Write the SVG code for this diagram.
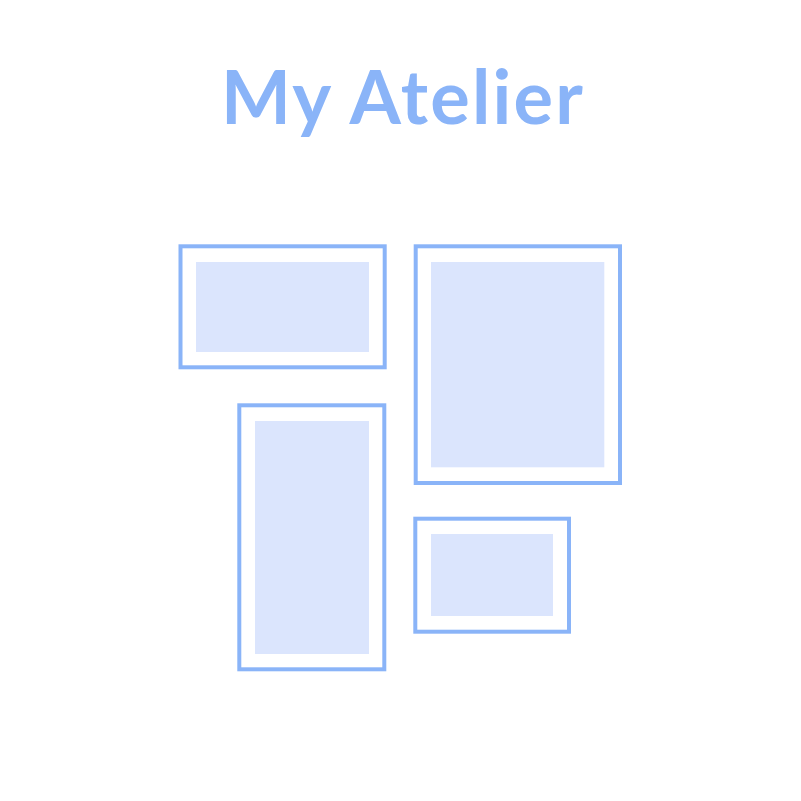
<svg xmlns="http://www.w3.org/2000/svg" width="801" height="801" viewBox="0 0 801 801">
<style>
.frame{fill:#ffffff;stroke:#8ab4f8;stroke-width:4}
.art{fill:#dbe5fd}
.title{font-family:Lato,"Open Sans","DejaVu Sans",sans-serif;font-weight:bold;font-size:74px;letter-spacing:2.2px;fill:#8ab4f8}
</style>
<rect width="801" height="801" fill="#ffffff"/>
<text class="title" x="403" y="124" text-anchor="middle">My Atelier</text>
<g id="frame1">
<rect class="frame" x="180.5" y="246.3" width="204.2" height="121"/>
<rect class="art" x="196" y="262" width="173" height="90"/>
</g>
<g id="frame2">
<rect class="frame" x="415.7" y="246.3" width="204.3" height="236.7"/>
<rect class="art" x="431" y="262" width="173.3" height="205.3"/>
</g>
<g id="frame3">
<rect class="frame" x="239.3" y="405.3" width="145" height="264"/>
<rect class="art" x="255" y="421" width="114" height="233"/>
</g>
<g id="frame4">
<rect class="frame" x="415.3" y="518.7" width="153.7" height="113"/>
<rect class="art" x="431" y="534" width="122" height="82"/>
</g>
<g id="connectors"></g>
</svg>
